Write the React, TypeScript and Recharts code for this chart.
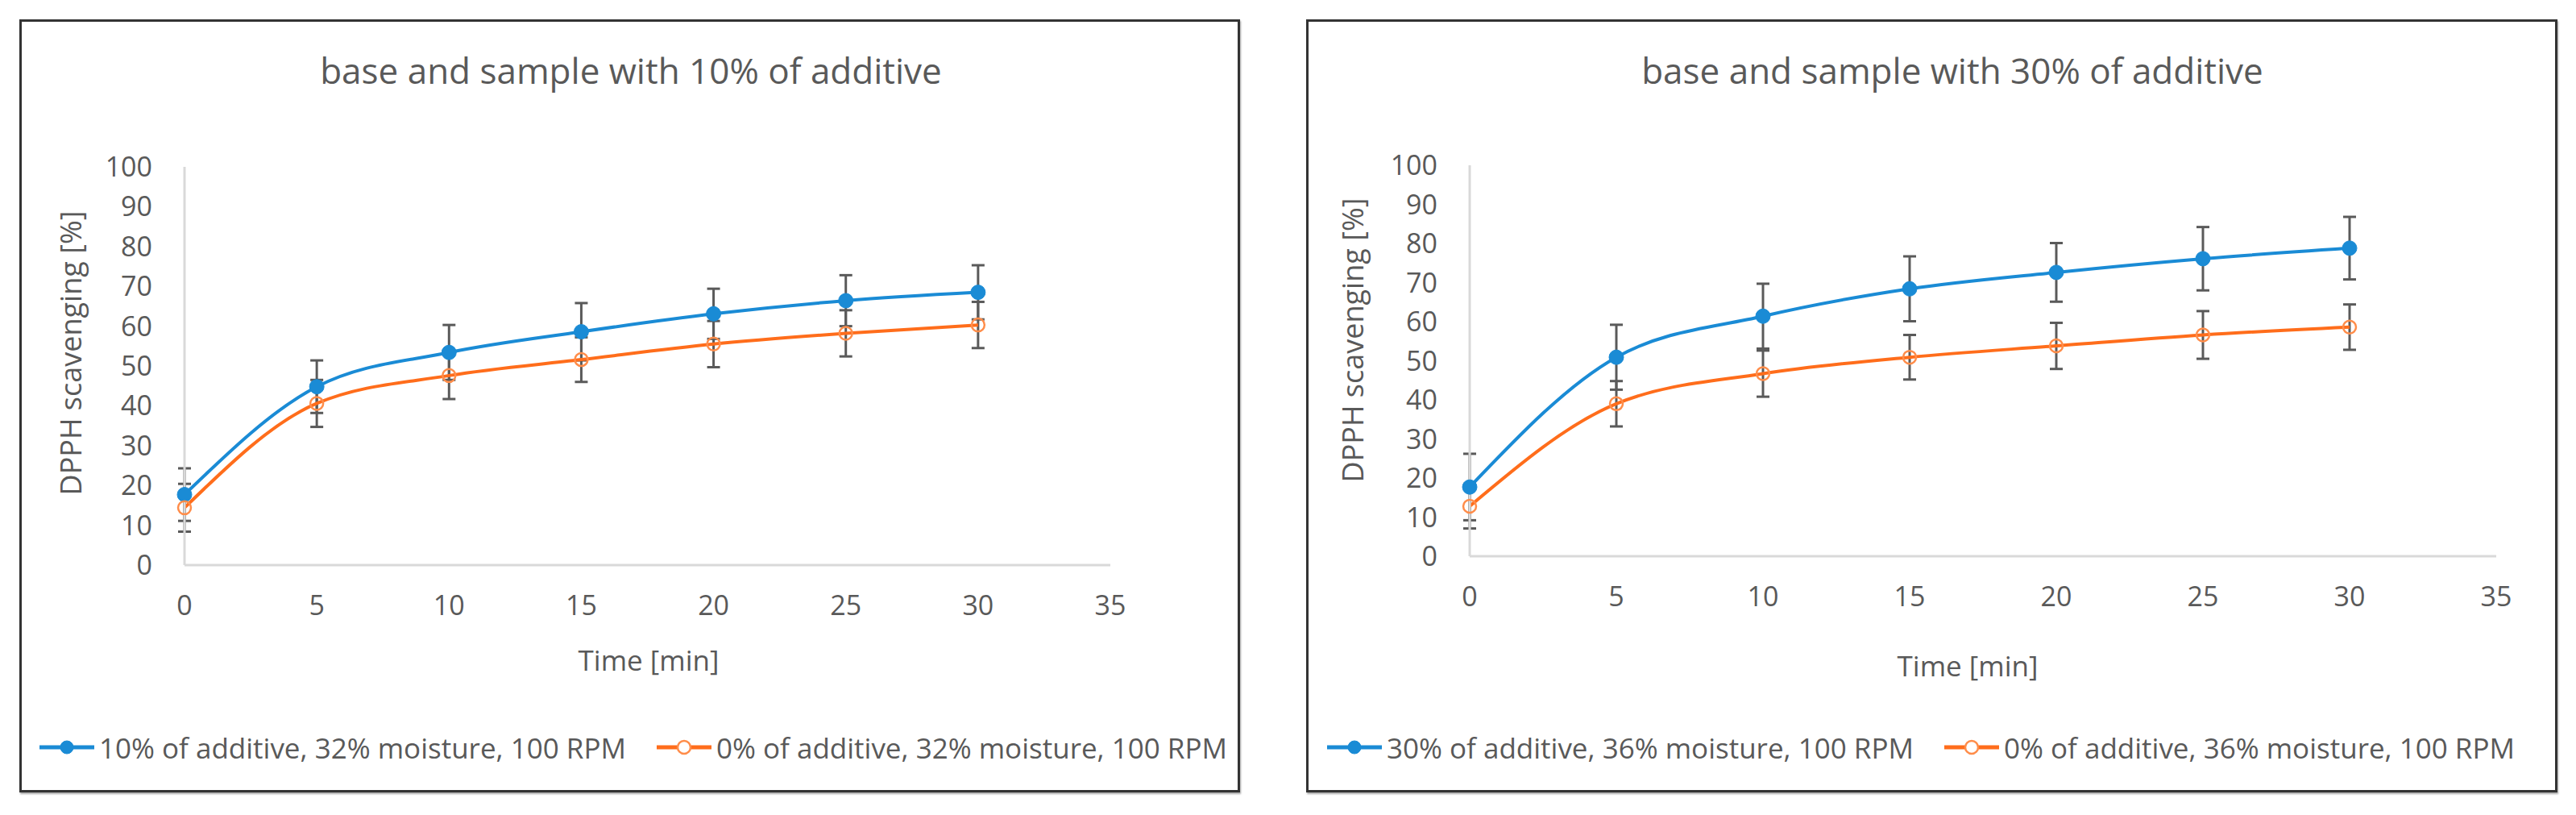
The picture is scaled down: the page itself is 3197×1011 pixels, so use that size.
import React from 'react';
import { LineChart, Line, XAxis, YAxis, ErrorBar, Label } from 'recharts';

// ---- data ----
const timeMin = [0, 5, 10, 15, 20, 25, 30];
const xTicks = [0, 5, 10, 15, 20, 25, 30, 35];
const yTicks = [0, 10, 20, 30, 40, 50, 60, 70, 80, 90, 100];

const leftTitle = 'base and sample with 10% of additive';
const leftSeriesNames = ['10% of additive, 32% moisture, 100 RPM', '0% of additive, 32% moisture, 100 RPM'];
const leftAdditive = [17.7, 44.8, 53.4, 58.6, 63.1, 66.4, 68.5];
const leftAdditiveErr = [6.6, 6.6, 6.9, 7.2, 6.3, 6.4, 6.8];
const leftBase = [14.4, 40.6, 47.6, 51.6, 55.5, 58.2, 60.3];
const leftBaseErr = [6.0, 5.9, 5.9, 5.6, 5.8, 5.8, 5.8];

const rightTitle = 'base and sample with 30% of additive';
const rightSeriesNames = ['30% of additive, 36% moisture, 100 RPM', '0% of additive, 36% moisture, 100 RPM'];
const rightAdditive = [17.7, 50.9, 61.4, 68.4, 72.6, 76.1, 78.8];
const rightAdditiveErr = [8.5, 8.3, 8.3, 8.3, 7.5, 8.1, 8.0];
const rightBase = [12.8, 39.0, 46.7, 50.9, 53.8, 56.6, 58.6];
const rightBaseErr = [5.7, 5.8, 5.9, 5.7, 5.9, 6.1, 5.8];

const xAxisTitle = 'Time [min]';
const yAxisTitle = 'DPPH scavenging [%]';

// ---- style ----
const BLUE = '#1a8bd5';
const ORANGE = '#ff6d1b';
const ORANGE_MARK = '#ff8d4a';
const TEXT = '#595959';
const AXIS = '#d9d9d9';
const ERR = '#5a5a5a';
const FONT = "'Open Sans', 'Liberation Sans', sans-serif";

type PanelCfg = {
  left: number; top: number; w: number; h: number;
  plot: { l: number; r: number; t: number; b: number };
  title: string; titleCx: number; titleCy: number;
  yLabelCx: number; yLabelCy: number;
  xLabelCx: number; xLabelCy: number;
  legendCx: number; legendCy: number;
  names: string[];
  add: number[]; addErr: number[]; base: number[]; baseErr: number[];
};

const panels: PanelCfg[] = [
  {
    left: 25, top: 25, w: 1513, h: 957,
    plot: { l: 204, r: 1353, t: 182, b: 676 },
    title: leftTitle, titleCx: 758, titleCy: 62,
    yLabelCx: 62, yLabelCy: 413,
    xLabelCx: 780, xLabelCy: 793,
    legendCx: 761, legendCy: 902,
    names: leftSeriesNames,
    add: leftAdditive, addErr: leftAdditiveErr, base: leftBase, baseErr: leftBaseErr,
  },
  {
    left: 1622, top: 25, w: 1551, h: 957,
    plot: { l: 202, r: 1476, t: 180, b: 665 },
    title: rightTitle, titleCx: 801, titleCy: 62,
    yLabelCx: 56, yLabelCy: 397,
    xLabelCx: 820, xLabelCy: 800,
    legendCx: 762, legendCy: 902,
    names: rightSeriesNames,
    add: rightAdditive, addErr: rightAdditiveErr, base: rightBase, baseErr: rightBaseErr,
  },
];

const LegendIcon = ({ color, filled }: { color: string; filled: boolean }) => (
  <svg width={68} height={24} style={{ display: 'block' }}>
    <line x1={0} y1={12} x2={68} y2={12} stroke={color} strokeWidth={5} />
    <circle cx={34} cy={12} r={8} fill={filled ? color : '#fff'} stroke={filled ? color : ORANGE_MARK} strokeWidth={filled ? 1 : 2.5} />
  </svg>
);

const Panel = ({ cfg }: { cfg: PanelCfg }) => {
  const data = timeMin.map((t, i) => ({
    t,
    a: cfg.add[i], aErr: cfg.addErr[i],
    b: cfg.base[i], bErr: cfg.baseErr[i],
  }));
  const Y_W = 100;
  const X_H = 60;
  const margin = {
    top: cfg.plot.t,
    left: cfg.plot.l - Y_W,
    right: cfg.w - cfg.plot.r,
    bottom: cfg.h - cfg.plot.b - X_H,
  };
  const tickStyle = { fill: TEXT, fontSize: 34, fontFamily: FONT };
  return (
    <div style={{ position: 'absolute', left: cfg.left, top: cfg.top, width: cfg.w, height: cfg.h, background: '#fff' }}>
      <LineChart width={cfg.w} height={cfg.h} data={data} margin={margin}>
        <XAxis
          dataKey="t" type="number" domain={[0, 35]} ticks={xTicks} interval={0}
          height={X_H} axisLine={{ stroke: AXIS, strokeWidth: 3 }} tickLine={false}
          tickSize={0} tickMargin={38} tick={tickStyle}
        >
          <Label
            content={() => (
              <text x={cfg.xLabelCx} y={cfg.xLabelCy} textAnchor="middle" dominantBaseline="central"
                fill={TEXT} fontSize={35} fontFamily={FONT}>{xAxisTitle}</text>
            )}
          />
        </XAxis>
        <YAxis
          type="number" domain={[0, 100]} ticks={yTicks} interval={0}
          width={Y_W} axisLine={{ stroke: AXIS, strokeWidth: 3 }} tickLine={false}
          tickSize={0} tickMargin={40} tick={tickStyle}
        >
          <Label
            content={() => (
              <text x={cfg.yLabelCx} y={cfg.yLabelCy} textAnchor="middle" dominantBaseline="central"
                transform={`rotate(-90 ${cfg.yLabelCx} ${cfg.yLabelCy})`}
                fill={TEXT} fontSize={36} fontFamily={FONT}>{yAxisTitle}</text>
            )}
          />
        </YAxis>
        <Line
          type="monotone" dataKey="a" name={cfg.names[0]} stroke={BLUE} strokeWidth={4}
          dot={{ r: 9, fill: BLUE, stroke: BLUE, strokeWidth: 1 }} activeDot={false}
          isAnimationActive={false}
        >
          <ErrorBar dataKey="aErr" direction="y" width={8} strokeWidth={3} stroke={ERR} />
        </Line>
        <Line
          type="monotone" dataKey="b" name={cfg.names[1]} stroke={ORANGE} strokeWidth={4}
          dot={{ r: 8, fill: 'none', stroke: ORANGE_MARK, strokeWidth: 2.5 }} activeDot={false}
          isAnimationActive={false}
        >
          <ErrorBar dataKey="bErr" direction="y" width={8} strokeWidth={3} stroke={ERR} />
        </Line>
      </LineChart>
      <div style={{
        position: 'absolute', left: cfg.titleCx - 600, width: 1200, top: cfg.titleCy - 30, height: 60,
        lineHeight: '60px', textAlign: 'center', color: TEXT, fontSize: 44, fontFamily: FONT, whiteSpace: 'nowrap',
      }}>{cfg.title}</div>
      <div style={{
        position: 'absolute', left: cfg.legendCx - 750, width: 1500, top: cfg.legendCy - 25, height: 50,
        display: 'flex', justifyContent: 'center', alignItems: 'center', gap: 38,
        color: TEXT, fontSize: 35, fontFamily: FONT, whiteSpace: 'nowrap',
      }}>
        {cfg.names.map((n, i) => (
          <div key={n} style={{ display: 'flex', alignItems: 'center', gap: 6 }}>
            <LegendIcon color={i === 0 ? BLUE : ORANGE} filled={i === 0} />
            <span>{n}</span>
          </div>
        ))}
      </div>
      <div style={{
        position: 'absolute', left: -1, top: -1, width: cfg.w + 2, height: cfg.h + 2, boxSizing: 'border-box',
        border: '3px solid #333', boxShadow: '1px 2px 2px rgba(0,0,0,0.35)', pointerEvents: 'none',
      }} />
    </div>
  );
};

export default function App() {
  return (
    <div style={{ position: 'absolute', left: 0, top: 0, width: 3197, height: 1011, background: '#fff', overflow: 'hidden' }}>
      {panels.map((p) => <Panel key={p.title} cfg={p} />)}
    </div>
  );
}
